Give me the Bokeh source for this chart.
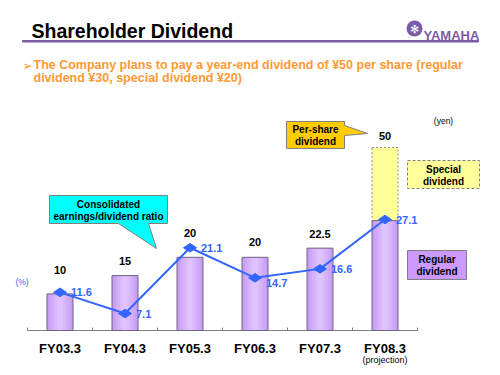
import math
from bokeh.plotting import figure
from bokeh.models import (Range1d, ColumnDataSource, Label,
                          BoxAnnotation, PolyAnnotation)
from bokeh.core.properties import value
from bokeh.embed import file_html
from bokeh.resources import INLINE

# ---------------- data ----------------
categories = ["FY03.3", "FY04.3", "FY05.3", "FY06.3", "FY07.3", "FY08.3"]
category_notes = ["", "", "", "", "", "(projection)"]
regular_dividend = [10, 15, 20, 20, 22.5, 30]
special_dividend = [0, 0, 0, 0, 0, 20]
payout_ratio = [11.6, 7.1, 21.1, 14.7, 16.6, 27.1]
dividend_labels = ["10", "15", "20", "20", "22.5", "50"]
ratio_labels = ["11.6", "7.1", "21.1", "14.7", "16.6", "27.1"]

# ---------------- style / layout ----------------
FONT = "Liberation Sans"
PURPLE = "#7b5ca8"
ORANGE = "#ff9933"
BLUE = "#3366ff"
AXIS_GREY = "#808080"
label_lift = [24, 14.5, 24, 15.5, 14.6, 11.7]      # px above bar top
ratio_drop = [0, 0, 0, 5, 0, 0]                     # px below marker

W, H = 500, 375
BASE_PAGE = 330          # page y of the category baseline
PX_PER_YEN = 3.66
PCT_ZERO_PAGE = 346.4
PX_PER_PCT = 4.7
TICK_LEN = 3 / PX_PER_YEN

def sx(px):
    return px
def sy(py):
    return H - py

n = len(categories)
xs = [i + 0.5 for i in range(n)]
totals = [r + s for r, s in zip(regular_dividend, special_dividend)]

p = figure(width=W, height=H,
           x_range=Range1d(-27 / 65, (W - 27) / 65),
           y_range=Range1d(-(H - BASE_PAGE) / PX_PER_YEN, BASE_PAGE / PX_PER_YEN),
           output_backend="svg", toolbar_location=None,
           x_axis_location=None, y_axis_location=None,
           min_border_left=0, min_border_right=0, min_border_top=0,
           min_border_bottom=0)
p.extra_y_ranges = {"pct": Range1d(-(H - PCT_ZERO_PAGE) / PX_PER_PCT,
                                   PCT_ZERO_PAGE / PX_PER_PCT)}
p.grid.visible = False
p.outline_line_color = None
p.background_fill_color = "white"
p.border_fill_color = "white"

# category axis (baseline, boundary ticks, labels)
p.segment(x0=[0], y0=[0], x1=[n], y1=[0], line_color=AXIS_GREY, line_width=1)
bounds = list(range(n + 1))
p.segment(x0=bounds, y0=[0] * (n + 1), x1=bounds, y1=[TICK_LEN] * (n + 1),
          line_color=AXIS_GREY, line_width=1)
src_ax = ColumnDataSource(dict(x=xs, cat=categories, note=category_notes,
                               y=[0] * n))
p.text(x="x", y="y", text="cat", source=src_ax, y_offset=18,
       text_font=value(FONT), text_font_style="bold", text_font_size="13px",
       text_align="center", text_baseline="middle", text_color="black")
p.text(x="x", y="y", text="note", source=src_ax, y_offset=29,
       text_font=value(FONT), text_font_size="9px",
       text_align="center", text_baseline="middle", text_color="black")

src = ColumnDataSource(dict(x=xs, regular=regular_dividend, total=totals,
                            label=dividend_labels,
                            dy=[-v for v in label_lift]))

# special dividend part
sp_idx = [i for i, s in enumerate(special_dividend) if s > 0]
src_sp = ColumnDataSource(dict(x=[xs[i] for i in sp_idx],
                               bottom=[regular_dividend[i] for i in sp_idx],
                               top=[totals[i] for i in sp_idx]))
p.vbar(x="x", bottom="bottom", top="top", width=0.4, source=src_sp,
       fill_color="#ffff99", line_color="#8c8c8c", line_dash="2 2", line_width=1)

# regular dividend bars with a faux gradient
layers = [(0.40, "#c89cf4"), (0.32, "#cea7f7"), (0.24, "#d4b2fa"),
          (0.16, "#d9bbfd"), (0.08, "#dec3ff")]
for w, c in layers:
    p.vbar(x="x", top="regular", bottom=0, width=w, source=src,
           fill_color=c, line_color=None)
p.vbar(x="x", top="regular", bottom=0, width=0.4, source=src,
       fill_color=None, line_color="#6f6480", line_width=1)

p.text(x="x", y="total", text="label", source=src, y_offset="dy",
       text_font=value(FONT), text_font_style="bold", text_font_size="11px",
       text_align="center", text_baseline="middle", text_color="black")

# payout ratio line
src_r = ColumnDataSource(dict(x=xs, r=payout_ratio, label=ratio_labels, dy=ratio_drop))
p.line(x="x", y="r", source=src_r, y_range_name="pct", line_color=BLUE, line_width=2)
p.scatter(x="x", y="r", source=src_r, y_range_name="pct", marker="diamond",
          angle=math.pi / 2, size=13, fill_color=BLUE, line_color=BLUE)
p.text(x="x", y="r", text="label", source=src_r, y_range_name="pct",
       x_offset=11, y_offset="dy", text_font=value(FONT), text_font_style="bold",
       text_font_size="11px", text_align="left", text_baseline="middle",
       text_color=BLUE)

def lab(x, y, text, size, color="black", style="bold", align="center",
        baseline="middle", font=FONT):
    p.add_layout(Label(x=sx(x), y=sy(y), x_units="screen", y_units="screen",
                       text=text, text_font=font, text_font_size=size,
                       text_font_style=style, text_color=color,
                       text_align=align, text_baseline=baseline))

def box(l, r, t, b, fill, line=None, dash="solid", radius=0):
    p.add_layout(BoxAnnotation(left=sx(l), right=sx(r), top=sy(t), bottom=sy(b),
                               left_units="screen", right_units="screen",
                               top_units="screen", bottom_units="screen",
                               fill_color=fill, fill_alpha=1,
                               line_color=line, line_dash=dash, line_alpha=1,
                               line_width=1, border_radius=radius))

def poly(pts, fill, line="#808080"):
    p.add_layout(PolyAnnotation(xs=[sx(a) for a, _ in pts], ys=[sy(b) for _, b in pts],
                                xs_units="screen", ys_units="screen",
                                fill_color=fill, fill_alpha=1,
                                line_color=line, line_width=1, line_alpha=1))

# header
lab(31, 30, "Shareholder Dividend", "19.5px", align="left", baseline="alphabetic")
poly([(22, 40), (478, 40), (478, 41.5), (22, 41.5)], PURPLE, line=PURPLE)
box(406, 422, 20, 36, PURPLE, radius=8)
lab(414, 28.5, "\u273b", "11px", color="white", style="normal", font="DejaVu Sans")
lab(423, 35, "YAMAHA", "13px", color=PURPLE, align="left", baseline="alphabetic")

# subtitle
lab(22, 65, "\u27a2", "12px", color=ORANGE, align="left", baseline="alphabetic",
    font="DejaVu Sans")
lab(33, 64.5, "The Company plans to pay a year-end dividend of \u00a550 per share (regular",
    "12.5px", color=ORANGE, align="left", baseline="alphabetic")
lab(33, 77.5, "dividend \u00a530, special dividend \u00a520)", "12.5px", color=ORANGE,
    align="left", baseline="alphabetic")

# callouts
poly([(49, 195), (167, 195), (167, 223), (148, 223), (156, 248), (118, 223), (49, 223)],
     "#00ffff")
lab(108, 204, "Consolidated", "10px")
lab(108, 216, "earnings/dividend ratio", "10px")

poly([(286, 121), (344, 121), (344, 125), (367, 133), (344, 135), (344, 148), (286, 148)],
     "#ffcc00")
lab(315, 129, "Per-share", "10px")
lab(315, 141, "dividend", "10px")

lab(443, 120, "(yen)", "8.5px", style="normal")
lab(21.5, 281, "(%)", "8.5px", color=BLUE, style="normal")

box(407, 479, 160, 188, "#ffff99", line="#808080", dash="3 2")
lab(443, 169, "Special", "10px")
lab(443, 181, "dividend", "10px")

box(407, 466, 250, 279, "#cc99ff", line="#808080")
lab(436.5, 259, "Regular", "10px")
lab(436.5, 271, "dividend", "10px")

open("out.html", "w").write(file_html(p, INLINE))
